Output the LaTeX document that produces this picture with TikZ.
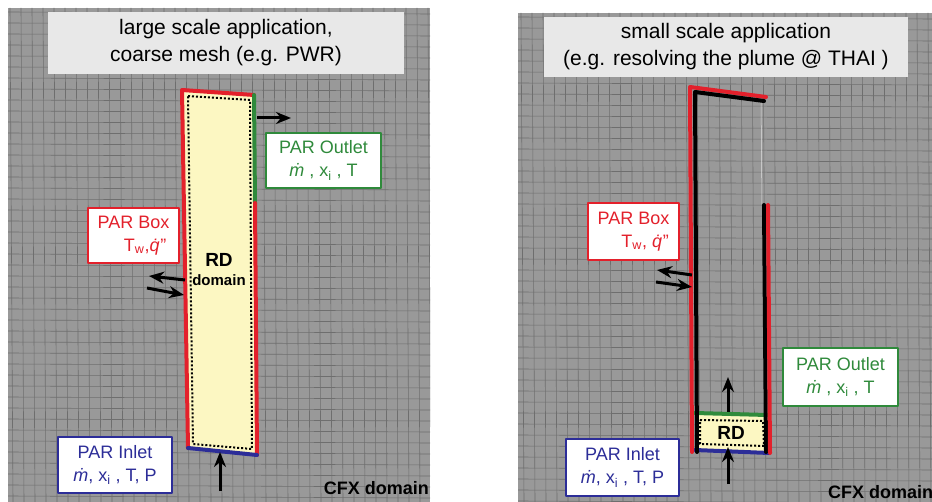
\documentclass[tikz,border=0pt]{standalone}
\usepackage{fontspec}
\setmainfont{Liberation Sans}
\usetikzlibrary{positioning,arrows.meta}
\definecolor{meshgray}{HTML}{999999}
\definecolor{meshline}{HTML}{6E6E6E}
\definecolor{titlegray}{HTML}{E8E8E8}
\definecolor{rdyellow}{HTML}{FCF7C2}
\definecolor{parred}{HTML}{E3202B}
\definecolor{pargreen}{HTML}{2F8A3B}
\definecolor{parblue}{HTML}{2C2D98}
\tikzset{
  titlebox/.style={fill=titlegray, align=center, inner sep=0pt, font=\fontsize{21}{27}\selectfont},
  parbox/.style={draw, line width=2pt, fill=white, align=center, inner sep=0pt, font=\fontsize{18}{23}\selectfont},
  cfxlabel/.style={font=\fontsize{18}{20}\selectfont\bfseries, inner sep=0pt},
  flux/.style={-{Stealth[length=15pt,width=12pt]}, line width=3pt},
  wall/.style={line width=4pt, line cap=round},
  mesh/.style={meshline, line width=.6pt}
}
\begin{document}
\begin{tikzpicture}[x=1pt,y=-1pt,line join=round]
\useasboundingbox (0,0) rectangle (932,502);
\fill[white] (0,0) rectangle (932,502);
% CFX meshes
\fill[meshgray] (8,8) rectangle (430,502);
\fill[meshgray] (518,13) rectangle (932,502);
\begin{scope}
  \clip (8,8) rectangle (430,502);
  \foreach \gx in {10,21,...,430} \draw[mesh] (\gx,8) -- (\gx+3,502);
  \foreach \gy in {12,23,...,502} \draw[mesh] (8,\gy) -- (430,\gy+2);
\end{scope}
\begin{scope}
  \clip (518,13) rectangle (932,502);
  \foreach \gx in {521,532,...,932} \draw[mesh] (\gx,13) -- (\gx+3,502);
  \foreach \gy in {17,28,...,502} \draw[mesh] (518,\gy) -- (932,\gy+2);
\end{scope}
\node[titlebox, minimum width=356pt, minimum height=62pt] (titleL) at (226,43) {large scale application,\\coarse mesh (e.g. PWR)};
\node[titlebox, minimum width=364pt, minimum height=60pt] (titleR) at (726,47) {small scale application\\(e.g. resolving the plume @ THAI )};
% left: large scale
\coordinate (rdTL) at (182,90);
\coordinate (rdTR) at (254,95);
\coordinate (rdMR) at (255,203);
\coordinate (rdBR) at (257,455);
\coordinate (rdBL) at (188,448);
\fill[rdyellow] (rdTL) -- (rdTR) -- (rdBR) -- (rdBL) -- cycle;
\draw[dotted, line width=2pt] (188,96) -- (250,100) -- (252,449) -- (193,444) -- cycle;
\draw[wall, parred] (rdBL) -- (rdTL) -- (rdTR);
\draw[wall, pargreen] (rdTR) -- (rdMR);
\draw[wall, parred] (rdMR) -- (rdBR);
\draw[wall, parblue] (rdBL) -- (rdBR);
\node[font=\fontsize{19}{20}\selectfont\bfseries, inner sep=0pt] (rdL) at (219,260) {RD};
\node[font=\fontsize{15}{17}\selectfont\bfseries, inner sep=0pt, below=8pt of rdL] (domL) {domain};
\node[parbox, draw=parred, text=parred, minimum width=91pt, minimum height=55pt] (boxL) at (133.5,235.5) {PAR Box\\\hspace*{1.3em}T\textsubscript{w},\textit{\.q}''};
\node[parbox, draw=pargreen, text=pargreen, minimum width=115pt, minimum height=55pt] (outL) at (323.5,160.5) {PAR Outlet\\\textit{ṁ} , x\textsubscript{i} , T};
\node[parbox, draw=parblue, text=parblue, minimum width=114pt, minimum height=56pt] (inL) at (115,465) {PAR Inlet\\\textit{ṁ}, x\textsubscript{i} , T, P};
\node[cfxlabel, anchor=east] (cfxL) at (429,488) {CFX domain};
\coordinate (outLa) at (257,118);
\coordinate (outLb) at (291,118);
\coordinate (boxLa) at (185,280);
\coordinate (boxLb) at (149,276);
\coordinate (boxLc) at (147,288);
\coordinate (boxLd) at (184,295);
\coordinate (inLa) at (220,491);
\coordinate (inLb) at (220,452);
\draw[flux] (outLa) -- (outLb);
\draw[flux] (boxLa) -- (boxLb);
\draw[flux] (boxLc) -- (boxLd);
\draw[flux] (inLa) -- (inLb);
% right: small scale
\draw[white!70!meshgray, line width=.5pt] (761,100) -- (762,205);
\coordinate (rdsTL) at (695,413);
\coordinate (rdsTR) at (767,415);
\coordinate (rdsBR) at (769,453);
\coordinate (rdsBL) at (695,450);
\fill[rdyellow] (rdsTL) -- (rdsTR) -- (rdsBR) -- (rdsBL) -- cycle;
\draw[dotted, line width=2pt] (700,420) -- (763,421) -- (764,446) -- (700,444) -- cycle;
\draw[wall, pargreen] (rdsTL) -- (rdsTR);
\draw[wall, parblue] (rdsBL) -- (rdsBR);
\draw[wall, parred] (692,452) -- (690,87) -- (766,97);
\draw[wall, black] (697,452) -- (695,92) -- (764,101);
\draw[wall, black] (764,205) -- (766,452);
\draw[wall, parred] (768,205) -- (770,453);
\node[font=\fontsize{19}{20}\selectfont\bfseries, inner sep=0pt] (rdR) at (731,433) {RD};
\node[parbox, draw=parred, text=parred, minimum width=91pt, minimum height=57pt] (boxR) at (633.5,231.5) {PAR Box\\\hspace*{1.3em}T\textsubscript{w}, \textit{\.q}''};
\node[parbox, draw=pargreen, text=pargreen, minimum width=115pt, minimum height=58pt] (outR) at (840.5,377) {PAR Outlet\\\textit{ṁ} , x\textsubscript{i} , T};
\node[parbox, draw=parblue, text=parblue, minimum width=113pt, minimum height=57pt] (inR) at (622.5,467.5) {PAR Inlet\\\textit{ṁ}, x\textsubscript{i} , T, P};
\node[cfxlabel, anchor=west] (cfxR) at (828,492) {CFX domain};
\coordinate (outRa) at (728,412);
\coordinate (outRb) at (728,377);
\coordinate (boxRa) at (692,275);
\coordinate (boxRb) at (657,270);
\coordinate (boxRc) at (656,282);
\coordinate (boxRd) at (692,287);
\coordinate (inRa) at (728,484);
\coordinate (inRb) at (728,447);
\draw[flux] (outRa) -- (outRb);
\draw[flux] (boxRa) -- (boxRb);
\draw[flux] (boxRc) -- (boxRd);
\draw[flux] (inRa) -- (inRb);
\end{tikzpicture}
\end{document}
